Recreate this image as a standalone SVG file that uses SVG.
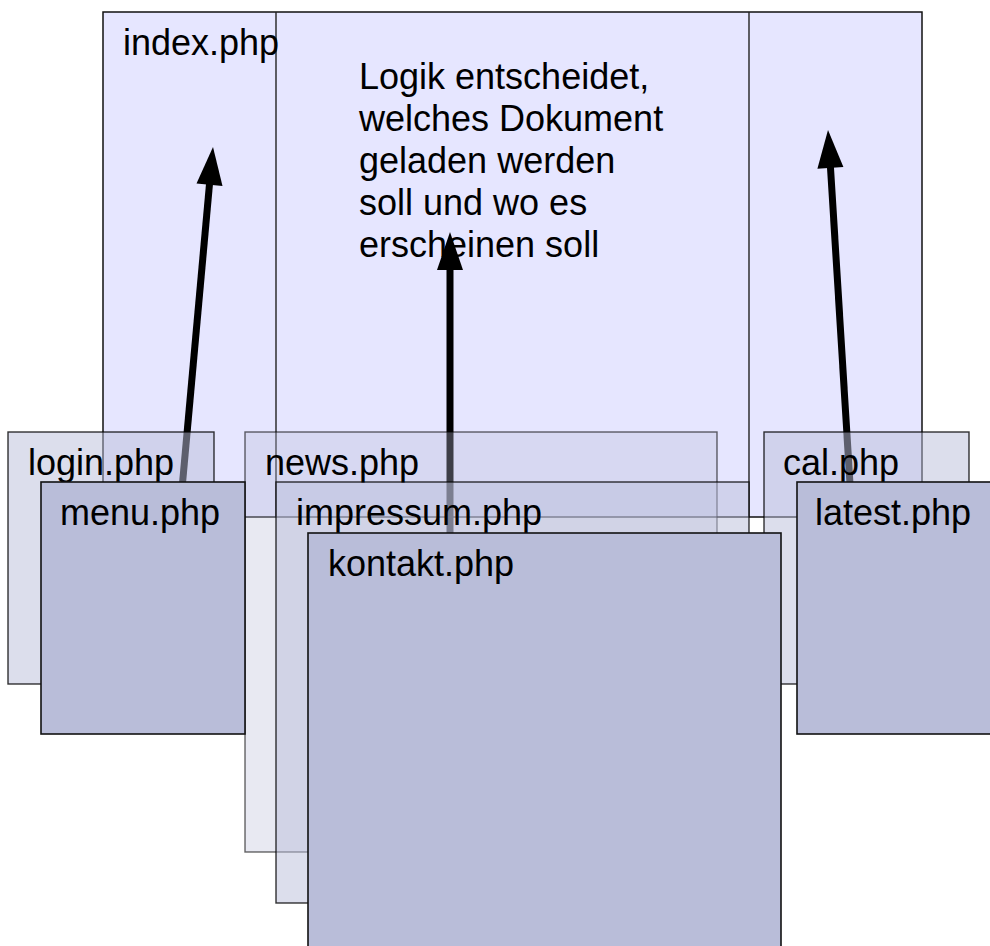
<svg xmlns="http://www.w3.org/2000/svg" width="990" height="946" viewBox="0 0 990 946">
<style>
text{font-family:"Liberation Sans",Arial,sans-serif;font-size:36px;fill:#000}
.idx{fill:#e6e6ff;stroke:#111;stroke-width:1.5}
.div{stroke:#222;stroke-width:1.4}
.solid{fill:#b9bdd9;stroke:#111;stroke-width:1.6}
.half{fill:#b9bdd9;fill-opacity:0.5;stroke:#000;stroke-opacity:0.8;stroke-width:1.4}
.third{fill:#b9bdd9;fill-opacity:0.33;stroke:#000;stroke-opacity:0.6;stroke-width:1.4}
.shaft{stroke:#000;stroke-width:7;fill:none}
.head{fill:#000}
</style>
<rect width="990" height="946" fill="#fff"/>
<g id="index">
<rect class="idx" x="103" y="12" width="819" height="505"/>
<line class="div" x1="276" y1="12" x2="276" y2="517"/>
<line class="div" x1="749" y1="12" x2="749" y2="517"/>
<text x="123" y="55">index.php</text>
<text x="359" y="89">Logik entscheidet,</text>
<text x="359" y="131">welches Dokument</text>
<text x="359" y="173">geladen werden</text>
<text x="359" y="215">soll und wo es</text>
<text x="359" y="257">erscheinen soll</text>
</g>
<g id="connectors">
<line class="shaft" x1="181" y1="500" x2="209.5" y2="184"/>
<polygon class="head" points="213,147 222.5,186 196.5,183.6"/>
<line class="shaft" x1="450" y1="550" x2="450" y2="268"/>
<polygon class="head" points="450,232 463,270 437,270"/>
<line class="shaft" x1="851" y1="500" x2="830.4" y2="166"/>
<polygon class="head" points="828,130 843.4,167.1 817.4,168.7"/>
</g>
<g id="login">
<rect class="half" x="8" y="432" width="206" height="252"/>
<text x="28" y="475">login.php</text>
</g>
<g id="news">
<rect class="third" x="245" y="432" width="472" height="420"/>
<text x="265" y="475">news.php</text>
</g>
<g id="cal">
<rect class="half" x="764" y="432" width="205" height="252"/>
<text x="783" y="475">cal.php</text>
</g>
<g id="impressum">
<rect class="half" x="276" y="482" width="473" height="421"/>
<text x="296" y="525">impressum.php</text>
</g>
<g id="menu">
<rect class="solid" x="41" y="482" width="204" height="252"/>
<text x="60" y="525">menu.php</text>
</g>
<g id="kontakt">
<rect class="solid" x="308" y="533" width="473" height="430"/>
<text x="328" y="576">kontakt.php</text>
</g>
<g id="latest">
<rect class="solid" x="797" y="482" width="205" height="252"/>
<text x="815" y="525">latest.php</text>
</g>
</svg>
